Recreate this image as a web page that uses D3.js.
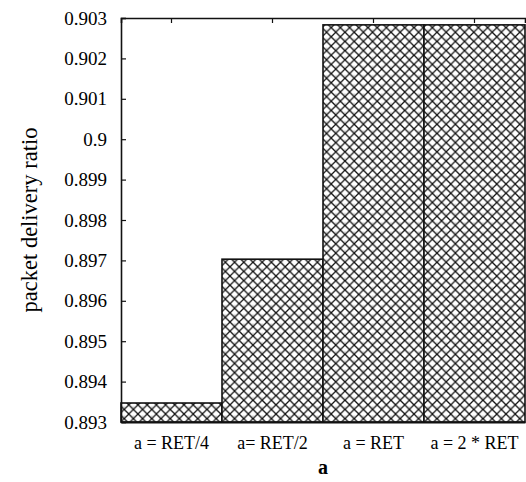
<!DOCTYPE html>
<html><head><meta charset="utf-8">
<script src="https://cdn.jsdelivr.net/npm/d3@7"></script>
<style>html,body{margin:0;padding:0;background:#fff;}svg{display:block;}
svg text{font-family:'Liberation Serif','Times New Roman',serif !important;}</style>
</head><body>
<svg id="c" width="526" height="482"></svg>
<script>
const categories = ["a = RET/4", "a= RET/2", "a = RET", "a = 2 * RET"];
const values = [0.89347, 0.89703, 0.90283, 0.90283];
const yTicks = [0.893,0.894,0.895,0.896,0.897,0.898,0.899,0.9,0.901,0.902,0.903];
const xTitle = "a";
const yTitle = "packet delivery ratio";

const svg = d3.select("#c");
const m = {left:121, right:525, top:18, bottom:422};
const font = "'Liberation Serif','Times New Roman',serif";

const x = d3.scaleBand().domain(categories).range([m.left, m.right]).padding(0);
const y = d3.scaleLinear().domain([0.893, 0.903]).range([m.bottom, m.top]);

const P = 9.2;
const defs = svg.append("defs");
const pat = defs.append("pattern").attr("id","hatch").attr("patternUnits","userSpaceOnUse")
  .attr("width",P).attr("height",P);
pat.append("rect").attr("width",P).attr("height",P).attr("fill","#fff");
pat.append("circle").attr("cx",P/2).attr("cy",2).attr("r",0.6).attr("fill","#aaa");
pat.append("path").attr("d",`M0,0L${P},${P}M-1,${P-1}L1,${P+1}M${P-1},-1L${P+1},1`).attr("stroke","#111").attr("stroke-width",1.3);
pat.append("path").attr("d",`M${P},0L0,${P}M-1,1L1,-1M${P-1},${P+1}L${P+1},${P-1}`).attr("stroke","#111").attr("stroke-width",1.3);

// bars
svg.append("g").selectAll("rect").data(categories).join("rect")
  .attr("x", d => x(d)).attr("width", x.bandwidth())
  .attr("y", (d,i) => y(values[i])).attr("height", (d,i) => y(0.893) - y(values[i]))
  .attr("fill","url(#hatch)").attr("stroke","#111").attr("stroke-width",1.6);

// left axis (inward ticks)
const yAxis = d3.axisLeft(y).tickValues(yTicks).tickSize(-5).tickPadding(14)
  .tickFormat(d => d3.format("")(+d.toFixed(3)));
const gy = svg.append("g").attr("transform",`translate(${m.left},0)`).call(yAxis);
gy.attr("font-family",font);
gy.select(".domain").attr("stroke","#111").attr("stroke-width",1.6);
gy.selectAll(".tick line").attr("stroke","#111").attr("stroke-width",1.2);
gy.selectAll(".tick text").style("font-family",font).attr("font-size",19).attr("fill","#000");

// top axis ticks at centers
const xTop = d3.axisTop(x).tickSize(-5).tickFormat("");
const gt = svg.append("g").attr("transform",`translate(0,${m.top})`).call(xTop);
gt.select(".domain").attr("stroke","#111").attr("stroke-width",1.6);
gt.selectAll(".tick line").attr("stroke","#111").attr("stroke-width",1.2);

// bottom axis
const xBot = d3.axisBottom(x).tickSize(0).tickPadding(14);
const gb = svg.append("g").attr("transform",`translate(0,${m.bottom})`).call(xBot);
gb.attr("font-family",font);
gb.select(".domain").attr("stroke","#111").attr("stroke-width",2);
gb.selectAll(".tick text").style("font-family",font).attr("font-size",18).attr("fill","#000");

// titles
svg.append("text").attr("x",(m.left+m.right)/2).attr("y",474).attr("text-anchor","middle")
  .style("font-family",font).attr("font-size",20).attr("font-weight","bold").attr("fill","#000").text(xTitle);
svg.append("text").attr("transform",`translate(37,${(m.top+m.bottom)/2}) rotate(-90)`)
  .attr("text-anchor","middle").style("font-family",font).attr("font-size",22.5).attr("fill","#000").text(yTitle);
</script>
</body></html>
